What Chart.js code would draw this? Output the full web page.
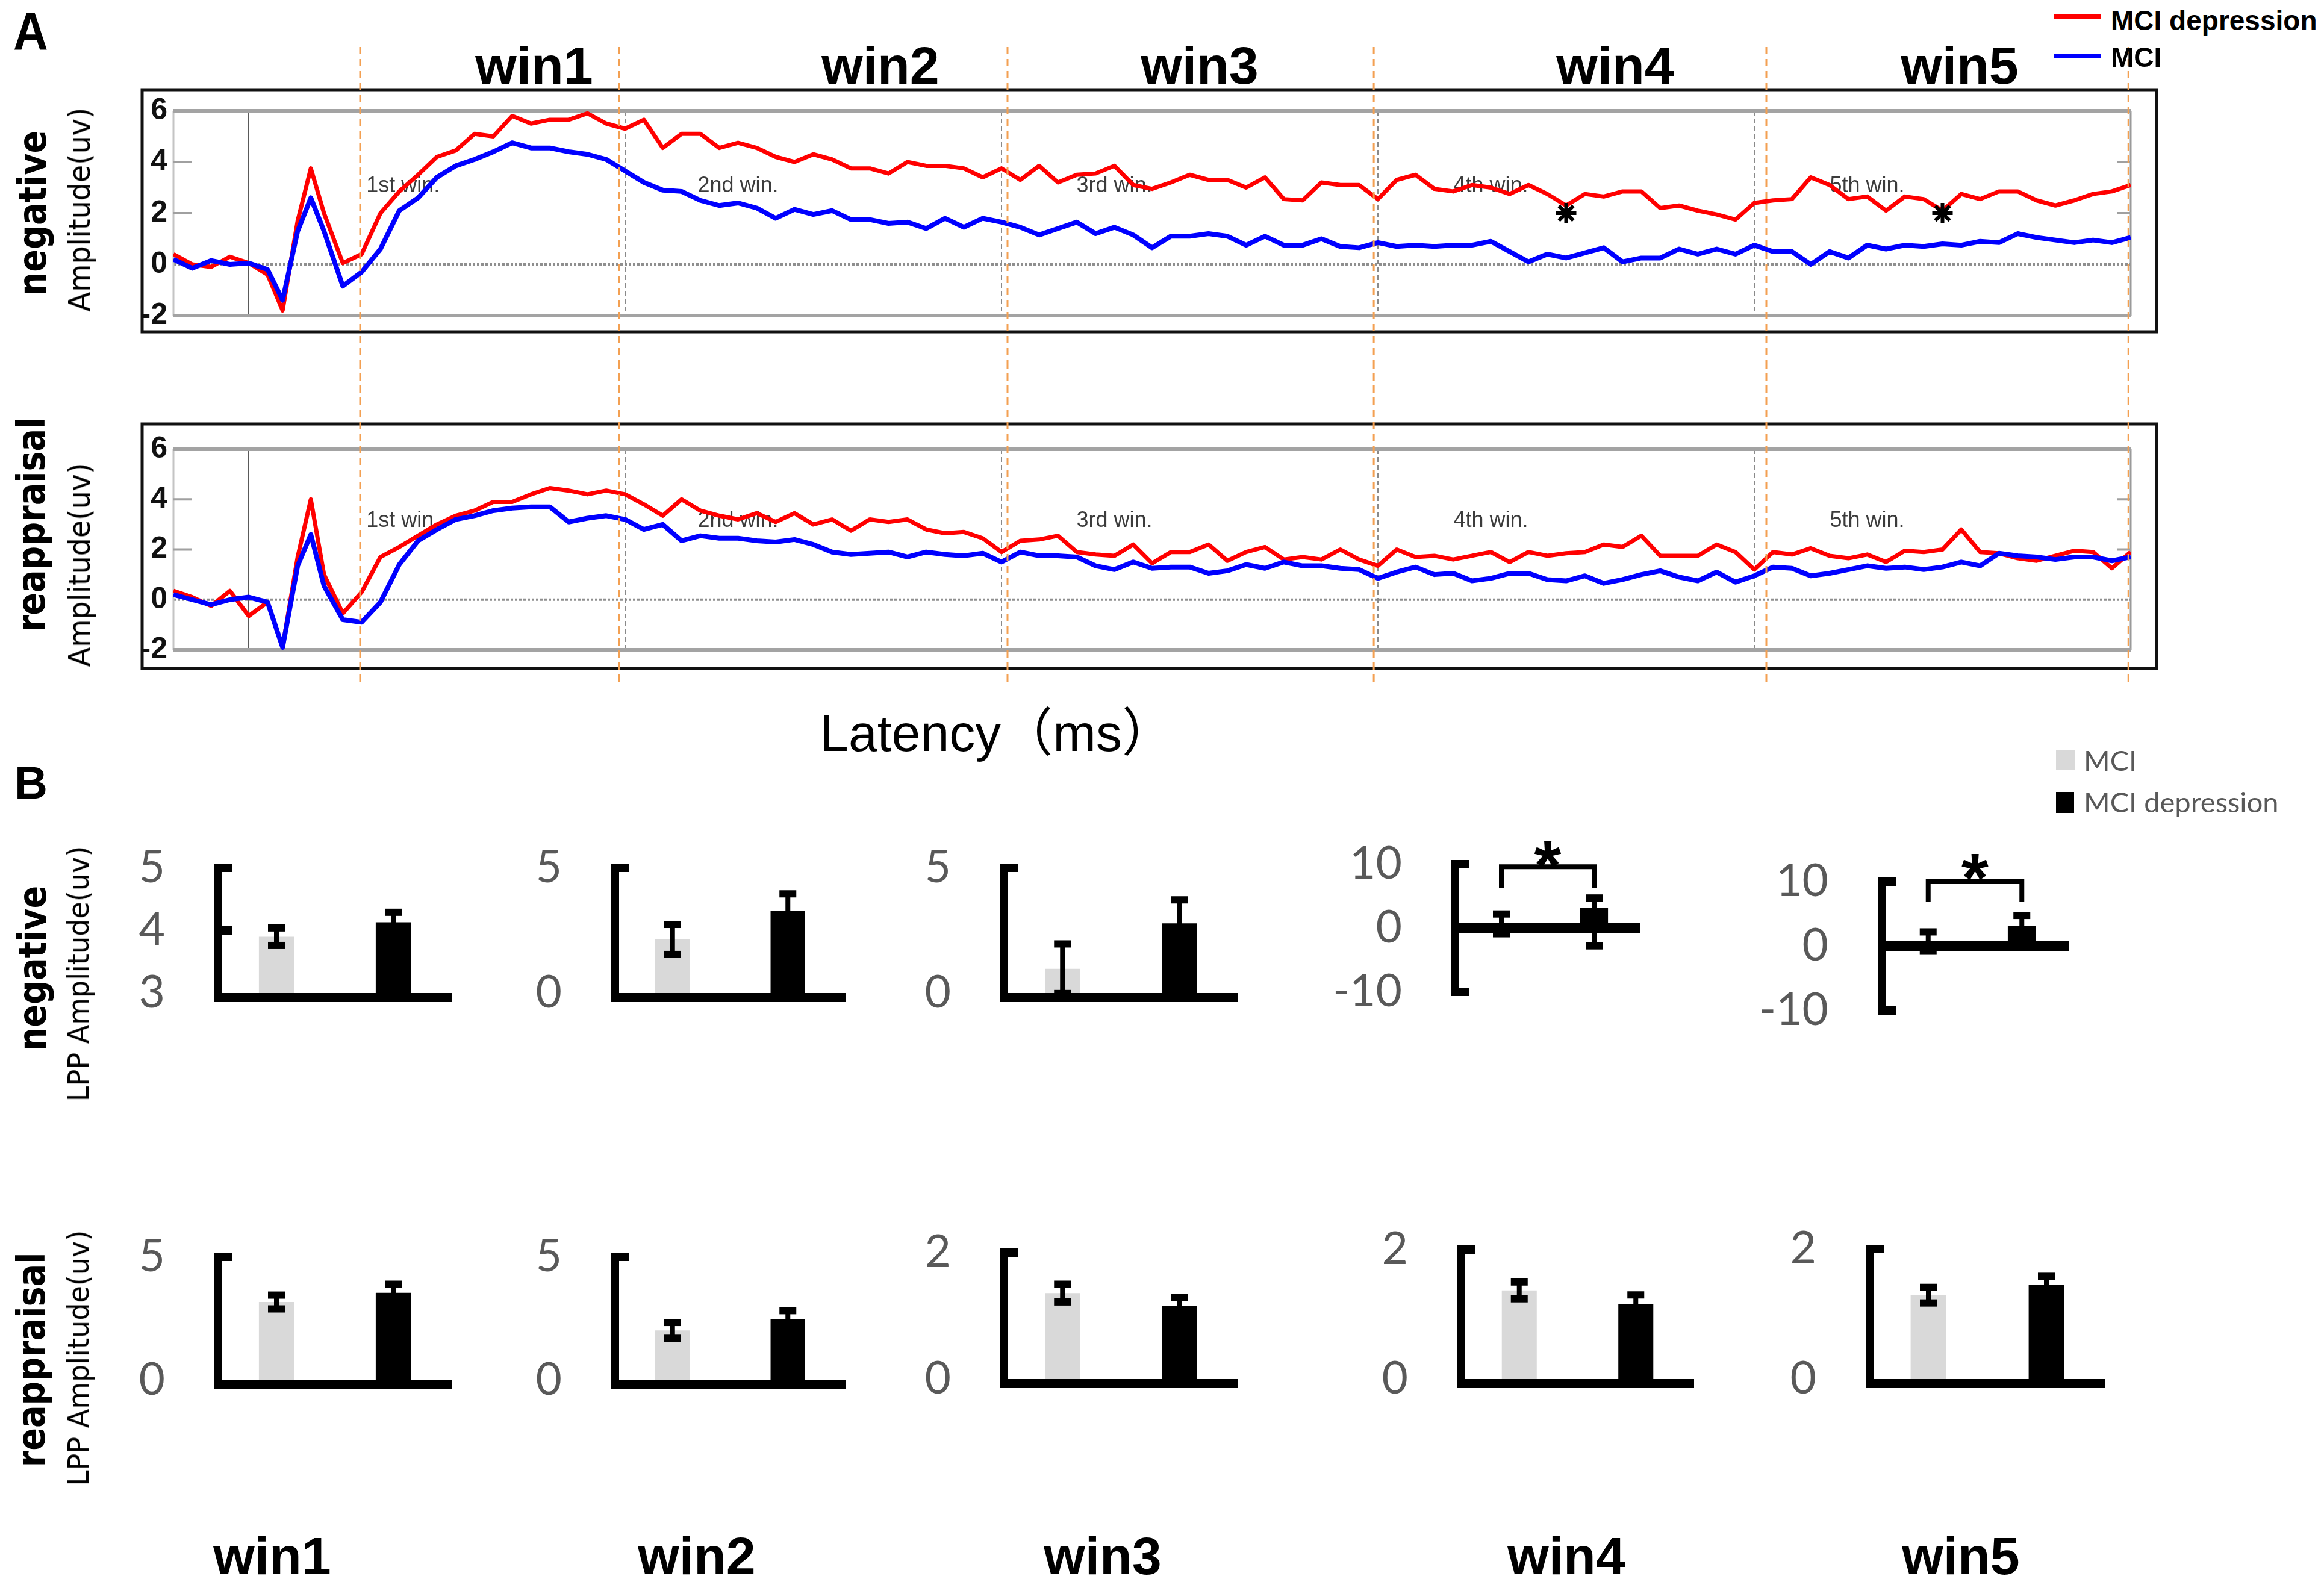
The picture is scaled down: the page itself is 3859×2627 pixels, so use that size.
<!DOCTYPE html>
<html><head><meta charset="utf-8">
<script src="https://cdn.jsdelivr.net/npm/chart.js@4.4.1/dist/chart.umd.min.js"></script>
<style>
html,body{margin:0;padding:0;background:#fff;}
#page{position:relative;width:3859px;height:2627px;overflow:hidden;background:#fff;}
#page canvas{position:absolute;}
.t{position:absolute;white-space:nowrap;line-height:1;}
.rot{position:absolute;white-space:nowrap;line-height:1;}
</style></head><body><div id="page"></div>
<script>
// ---------------- DATA ----------------
// ERP time axis (ms)
const times = [-200,-150,-100,-50,0,50,90,130,165,200,
  250,300,350,400,450,500,550,600,650,700,750,800,850,900,950,1000,1050,1100,1150,1200,1250,1300,1350,1400,
  1450,1500,1550,1600,1650,1700,1750,1800,1850,1900,
  1950,2000,2050,2100,2150,2200,2250,2300,2350,2400,
  2450,2500,2550,2600,2650,2700,2750,2800,2850,2900,
  2950,3000,3050,3100,3150,3200,3250,3300,3350,3400,
  3450,3500,3550,3600,3650,3700,3750,3800,3850,3900,
  3950,4000,4050,4100,4150,4200,4250,4300,4350,4400,
  4450,4500,4550,4600,4650,4700,4750,4800,4850,4900,
  4950,5000];
// negative condition (uV)
const negDepression = [0.4,0.0,-0.1,0.3,0.05,-0.4,-1.8,1.7,3.75,2.0,
  0.05,0.4,2.0,2.85,3.5,4.2,4.45,5.1,5.0,5.8,5.5,5.65,5.65,5.9,5.5,5.3,5.65,4.55,5.1,5.1,4.55,4.75,4.55,4.2,
  4.0,4.3,4.1,3.75,3.75,3.55,4.0,3.85,3.85,3.75,
  3.4,3.75,3.3,3.85,3.2,3.5,3.55,3.85,3.1,2.95,
  3.2,3.5,3.3,3.3,3.0,3.4,2.55,2.5,3.2,3.1,
  3.1,2.55,3.3,3.5,2.95,2.85,3.1,3.0,2.75,3.1,
  2.75,2.3,2.75,2.65,2.85,2.85,2.2,2.3,2.1,1.95,
  1.75,2.4,2.5,2.55,3.4,3.1,2.55,2.65,2.1,2.65,
  2.55,2.1,2.75,2.55,2.85,2.85,2.5,2.3,2.5,2.75,
  2.85,3.1];
const negMCIwave = [0.2,-0.15,0.15,0,0.05,-0.2,-1.4,1.3,2.6,1.3,
  -0.85,-0.3,0.6,2.1,2.6,3.4,3.85,4.1,4.4,4.75,4.55,4.55,4.4,4.3,4.1,3.65,3.2,2.9,2.85,2.5,2.3,2.4,2.2,1.8,
  2.15,1.95,2.1,1.75,1.75,1.6,1.65,1.4,1.8,1.45,
  1.8,1.65,1.45,1.15,1.4,1.65,1.2,1.45,1.15,0.65,
  1.1,1.1,1.2,1.1,0.75,1.1,0.75,0.75,1.0,0.7,
  0.65,0.85,0.7,0.75,0.7,0.75,0.75,0.9,0.5,0.1,
  0.4,0.25,0.45,0.65,0.1,0.25,0.25,0.6,0.4,0.6,
  0.4,0.75,0.5,0.5,0.0,0.5,0.25,0.75,0.6,0.75,
  0.7,0.8,0.75,0.9,0.85,1.2,1.05,0.95,0.85,0.95,
  0.85,1.05];
// reappraisal condition (uV)
const reapDepression = [0.35,0.1,-0.25,0.35,-0.65,-0.1,-1.9,1.7,4.0,1.0,
  -0.55,0.3,1.7,2.1,2.55,3.0,3.35,3.55,3.9,3.9,4.2,4.45,4.35,4.2,4.35,4.2,3.8,3.35,4.0,3.55,3.35,3.2,3.45,3.1,
  3.45,3.0,3.2,2.75,3.2,3.1,3.2,2.8,2.65,2.7,
  2.45,1.9,2.35,2.4,2.55,1.9,1.8,1.75,2.2,1.45,
  1.9,1.9,2.2,1.55,1.9,2.1,1.6,1.7,1.6,2.0,
  1.6,1.35,2.0,1.7,1.75,1.6,1.75,1.9,1.5,1.9,
  1.75,1.85,1.9,2.2,2.1,2.55,1.75,1.75,1.75,2.2,
  1.9,1.2,1.9,1.8,2.05,1.75,1.65,1.8,1.5,1.95,
  1.9,2.0,2.8,1.9,1.85,1.65,1.55,1.75,1.95,1.9,
  1.25,1.9];
const reapMCIwave = [0.2,0,-0.2,0,0.1,-0.1,-1.9,1.35,2.6,0.55,
  -0.8,-0.9,-0.1,1.4,2.35,2.8,3.2,3.35,3.55,3.65,3.7,3.7,3.1,3.25,3.35,3.2,2.8,3.0,2.35,2.55,2.45,2.45,2.35,2.3,
  2.4,2.2,1.9,1.8,1.85,1.9,1.7,1.9,1.8,1.75,
  1.85,1.5,1.9,1.75,1.75,1.7,1.35,1.2,1.5,1.25,
  1.3,1.3,1.05,1.15,1.4,1.25,1.5,1.35,1.35,1.25,
  1.2,0.85,1.1,1.3,1.0,1.05,0.75,0.85,1.05,1.05,
  0.8,0.75,0.95,0.65,0.8,1.0,1.15,0.9,0.75,1.1,
  0.7,0.95,1.3,1.25,0.95,1.05,1.2,1.35,1.25,1.3,
  1.2,1.3,1.5,1.35,1.85,1.75,1.7,1.6,1.7,1.7,
  1.55,1.7];
// significance markers in the negative waveform
const sigTimes = [3500, 4500];
const sigValues = [2.0, 2.0];
// window annotations
const gridTimes = [0, 1000, 2000, 3000, 4000, 5000];
const orangeTimes = [296, 984, 2016, 2989, 4032, 4994];
const winTexts = ['1st win.', '2nd win.', '3rd win.', '4th win.', '5th win.'];
const winTextTimes = [410, 1300, 2300, 3300, 4300];
const erpTicks = [-2, 0, 2, 4, 6];

// Panel B: LPP amplitude per window
const windows = ['win1', 'win2', 'win3', 'win4', 'win5'];
const groups = ['MCI', 'MCI depression'];
const negMCI = [3.90, 2.14, 0.97, 0.65, 0.70];
const negMCIErr = [0.14, 0.60, 0.99, 1.55, 1.50];
const negDep = [4.13, 3.27, 2.78, 3.20, 3.16];
const negDepErrUp = [0.16, 0.69, 0.94, 1.50, 1.60];
const negDepErrDown = [0.16, 0.69, 0.94, 6.00, 1.60];
const reapMCI = [3.17, 2.02, 1.36, 1.37, 1.29];
const reapMCIErr = [0.28, 0.32, 0.14, 0.13, 0.12];
const reapDep = [3.54, 2.47, 1.16, 1.16, 1.45];
const reapDepErr = [0.35, 0.35, 0.13, 0.14, 0.13];
const negAxisMin = [3, 0, 0, -10, -10];
const negAxisMax = [5, 5, 5, 10, 10];
const negAxisStep = [1, 5, 5, 10, 10];
const reapAxisMin = [0, 0, 0, 0, 0];
const reapAxisMax = [5, 5, 2, 2, 2];
const reapAxisStep = [5, 5, 2, 2, 2];
// significance brackets (value units): [bar level, leg end, star level]
const negSig = [null, null, null, [9.6, 6.3, 11.6], [10.0, 6.9, 12.3]];

// ---------------- HELPERS ----------------
const page = document.getElementById('page');
function addCanvas(l, t, w, h) {
  const c = document.createElement('canvas');
  c.width = w; c.height = h;
  c.style.left = l + 'px'; c.style.top = t + 'px';
  c.style.width = w + 'px'; c.style.height = h + 'px';
  page.appendChild(c);
  return c;
}
function addText(txt, css, cls) {
  const d = document.createElement('div');
  d.className = cls || 't';
  d.textContent = txt;
  Object.assign(d.style, css);
  page.appendChild(d);
  return d;
}
function addBox(l, t, w, h, color) {
  const d = document.createElement('div');
  Object.assign(d.style, { position: 'absolute', left: l + 'px', top: t + 'px', width: w + 'px', height: h + 'px', background: color });
  page.appendChild(d);
}
function seg(ctx, x0, y0, x1, y1) { ctx.beginPath(); ctx.moveTo(x0, y0); ctx.lineTo(x1, y1); ctx.stroke(); }

// ---------------- ERP CHARTS ----------------
function erpChart(cfg) {
  const c = addCanvas(cfg.left, cfg.top, cfg.w, cfg.h);
  const deco = {
    id: 'erpDeco',
    beforeDatasetsDraw(chart) {
      const { ctx, chartArea: a, scales: { x, y } } = chart;
      ctx.save();
      const y0 = y.getPixelForValue(0);
      ctx.strokeStyle = '#8f8f8f'; ctx.lineWidth = 4; ctx.setLineDash([4, 3]);
      seg(ctx, a.left, y0, a.right, y0);
      ctx.setLineDash([]);
      ctx.strokeStyle = '#c4c4c4'; ctx.lineWidth = 3;
      seg(ctx, a.left, a.top, a.left, a.bottom);
      gridTimes.forEach((t, i) => {
        const px = x.getPixelForValue(t);
        if (i === 0) { ctx.strokeStyle = '#5a5a5a'; ctx.lineWidth = 2; ctx.setLineDash([]); }
        else if (i === gridTimes.length - 1) { ctx.strokeStyle = '#9a9a9a'; ctx.lineWidth = 3; ctx.setLineDash([]); }
        else { ctx.strokeStyle = '#8a8a8a'; ctx.lineWidth = 2; ctx.setLineDash([8, 5]); }
        seg(ctx, px, a.top, px, a.bottom);
      });
      ctx.setLineDash([]);
      ctx.strokeStyle = '#a3a3a3'; ctx.lineWidth = 6;
      seg(ctx, a.left, y.getPixelForValue(6), a.right, y.getPixelForValue(6));
      seg(ctx, a.left, y.getPixelForValue(-2), a.right, y.getPixelForValue(-2));
      ctx.lineWidth = 4; ctx.strokeStyle = '#a0a0a0';
      [2, 4].forEach(v => {
        const py = y.getPixelForValue(v);
        seg(ctx, a.left, py, a.left + 30, py);
        seg(ctx, a.right - 22, py, a.right, py);
      });
      ctx.fillStyle = '#3c3c3c'; ctx.font = '36px "Liberation Sans"';
      ctx.textAlign = 'center'; ctx.textBaseline = 'middle';
      winTextTimes.forEach((t, i) => ctx.fillText(winTexts[i], x.getPixelForValue(t), y.getPixelForValue(cfg.labelVal)));
      ctx.restore();
    },
    afterDraw(chart) {
      const { ctx, chartArea: a, scales: { x } } = chart;
      ctx.save();
      ctx.strokeStyle = '#111'; ctx.lineWidth = 5;
      ctx.strokeRect(a.left + cfg.box[0], a.top + cfg.box[1], a.right - a.left - cfg.box[0] + cfg.box[2], a.bottom - a.top - cfg.box[1] + cfg.box[3]);
      ctx.strokeStyle = '#f3a052'; ctx.lineWidth = 3; ctx.setLineDash([12, 8]);
      orangeTimes.forEach(t => {
        const px = x.getPixelForValue(t);
        seg(ctx, px, cfg.orange[0], px, cfg.orange[1]);
      });
      ctx.restore();
    }
  };
  const ds = [
    { label: 'MCI', data: times.map((t, i) => ({ x: t, y: cfg.blue[i] })), borderColor: '#0000ff', borderWidth: 8, pointRadius: 0, tension: 0, borderJoinStyle: 'round' },
    { label: 'MCI depression', data: times.map((t, i) => ({ x: t, y: cfg.red[i] })), borderColor: '#ff0000', borderWidth: 7, pointRadius: 0, tension: 0, borderJoinStyle: 'round' }
  ];
  if (cfg.sig) {
    ds.unshift({ label: 'sig', data: sigTimes.map((t, i) => ({ x: t, y: sigValues[i] })), showLine: false, pointStyle: 'star', pointRadius: 17, pointBorderWidth: 6, borderColor: '#000', pointBorderColor: '#000' });
  }
  new Chart(c, {
    type: 'line',
    data: { datasets: ds },
    options: {
      responsive: false, animation: false, devicePixelRatio: 1,
      layout: { padding: { left: 0, top: cfg.pad[0], right: cfg.pad[1], bottom: cfg.pad[2] } },
      plugins: { legend: { display: false }, tooltip: { enabled: false } },
      scales: {
        x: { type: 'linear', min: -200, max: 5000, display: false },
        y: {
          min: -2, max: 6,
          afterBuildTicks(s) { s.ticks = erpTicks.map(v => ({ value: v })); },
          afterFit(s) { s.width = cfg.yw; },
          grid: { display: false, drawTicks: false }, border: { display: false },
          ticks: { padding: 10, color: '#111', font: { family: 'Liberation Sans', size: 50, weight: 'bold' } }
        }
      }
    },
    plugins: [deco]
  });
}

erpChart({ left: 100, top: 70, w: 3540, h: 530, pad: [114, 102, 76], yw: 188, red: negDepression, blue: negMCIwave, sig: true, labelVal: 3.05, box: [-52, -35, 43, 27], orange: [8, 530] });
erpChart({ left: 100, top: 600, w: 3540, h: 550, pad: [146, 102, 71], yw: 188, red: reapDepression, blue: reapMCIwave, sig: false, labelVal: 3.15, box: [-52, -42, 43, 31], orange: [0, 540] });

// ---------------- BAR CHARTS ----------------
function barChart(sp) {
  const padL = 230, padT = 130, padR = 20, padB = 40;
  const c = addCanvas(sp.L - padL, sp.T - padT, sp.R - sp.L + padL + padR, sp.B - sp.T + padT + padB);
  const deco = {
    id: 'barDeco',
    afterDatasetsDraw(chart) {
      const { ctx, chartArea: a, scales: { y } } = chart;
      const meta = chart.getDatasetMeta(0);
      const L = a.left, R = a.right;
      const yTop = y.getPixelForValue(sp.max), yBot = y.getPixelForValue(sp.min);
      ctx.save();
      ctx.fillStyle = '#000'; ctx.strokeStyle = '#000';
      sp.err.forEach((e, i) => {
        const bx = meta.data[i].x;
        const yh = y.getPixelForValue(e[0] + e[1]);
        const yl = y.getPixelForValue(e[0] - e[2]);
        ctx.fillRect(bx - 4, yh, 8, yl - yh);
        ctx.fillRect(bx - 14, yh - 6, 28, 12);
        ctx.fillRect(bx - 14, yl - 6, 28, 12);
      });
      if (sp.min < 0) {
        const y0 = y.getPixelForValue(0);
        ctx.fillRect(L, y0 - 9, R - L, 18);
        ctx.fillRect(L - 6, yTop - 7, 13, yBot - yTop + 14);
      } else {
        ctx.fillRect(L, yBot, R - L, 15);
        ctx.fillRect(L - 6, yTop - 7, 13, yBot - yTop + 22);
      }
      sp.tabs.forEach(v => { const py = y.getPixelForValue(v); ctx.fillRect(L, py - 7, 24, 14); });
      if (sp.sig) {
        const x0 = meta.data[0].x, x1 = meta.data[1].x;
        const yb = y.getPixelForValue(sp.sig[0]), yl = y.getPixelForValue(sp.sig[1]);
        ctx.lineWidth = 8; ctx.lineJoin = 'miter';
        ctx.beginPath(); ctx.moveTo(x0, yl); ctx.lineTo(x0, yb); ctx.lineTo(x1, yb); ctx.lineTo(x1, yl); ctx.stroke();
        ctx.font = 'bold 115px "Liberation Sans"'; ctx.textAlign = 'center'; ctx.textBaseline = 'alphabetic';
        const m = ctx.measureText('*');
        const cy = y.getPixelForValue(sp.sig[2]);
        const base = cy + (m.actualBoundingBoxAscent - m.actualBoundingBoxDescent) / 2;
        ctx.fillText('*', (x0 + x1) / 2, base);
      }
      ctx.restore();
    }
  };
  new Chart(c, {
    type: 'bar',
    data: { labels: groups, datasets: [{ data: [sp.err[0][0], sp.err[1][0]], backgroundColor: ['#d9d9d9', '#000000'], borderWidth: 0, barPercentage: 0.3, categoryPercentage: 1 }] },
    options: {
      responsive: false, animation: false, devicePixelRatio: 1,
      layout: { padding: { left: 0, top: padT, right: padR, bottom: padB } },
      plugins: { legend: { display: false }, tooltip: { enabled: false } },
      scales: {
        x: { display: false, offset: true },
        y: {
          min: sp.min, max: sp.max,
          afterFit(s) { s.width = padL; },
          grid: { display: false, drawTicks: false }, border: { display: false },
          ticks: { stepSize: sp.step, padding: 88, color: '#595959', font: { family: 'Lato', size: 75 } }
        }
      }
    },
    plugins: [deco]
  });
}

// layout boxes (x of y-axis, end of x-axis, top pixel, bottom pixel)
const negBoxes = [[362, 750, 1438, 1742], [1021, 1404, 1438, 1742], [1667, 2056, 1438, 1742], [2416, 2724, 1432, 1740], [3124, 3435, 1461, 1771]];
const reapBoxes = [[362, 750, 2084, 2385], [1021, 1404, 2084, 2385], [1667, 2056, 2077, 2383], [2426, 2813, 2072, 2383], [3104, 3496, 2071, 2383]];

windows.forEach((w, i) => {
  const nb = negBoxes[i];
  const nTabs = negAxisMin[i] < 0 ? [negAxisMax[i], negAxisMin[i]] : (negAxisStep[i] === 1 ? [negAxisMax[i], negAxisMax[i] - 1] : [negAxisMax[i]]);
  barChart({ L: nb[0], R: nb[1], T: nb[2], B: nb[3], min: negAxisMin[i], max: negAxisMax[i], step: negAxisStep[i], tabs: nTabs,
    err: [[negMCI[i], negMCIErr[i], negMCIErr[i]], [negDep[i], negDepErrUp[i], negDepErrDown[i]]], sig: negSig[i] });
  const rb = reapBoxes[i];
  barChart({ L: rb[0], R: rb[1], T: rb[2], B: rb[3], min: reapAxisMin[i], max: reapAxisMax[i], step: reapAxisStep[i], tabs: [reapAxisMax[i]],
    err: [[reapMCI[i], reapMCIErr[i], reapMCIErr[i]], [reapDep[i], reapDepErr[i], reapDepErr[i]]], sig: null });
});

// ---------------- TEXT ----------------
const LS = '"Liberation Sans", Arial, sans-serif';
const DJ = '"DejaVu Sans", Verdana, sans-serif';
addText('A', { left: '22px', top: '8px', fontFamily: LS, fontWeight: 'bold', fontSize: '80px', color: '#000', transform: 'scaleY(1.12)', transformOrigin: 'top left' });
addText('B', { left: '24px', top: '1262px', fontFamily: LS, fontWeight: 'bold', fontSize: '76px', color: '#000' });
const topWinX = [887, 1462, 1992, 2682, 3254];
windows.forEach((w, i) => addText(w, { left: topWinX[i] + 'px', top: '65px', fontFamily: LS, fontWeight: 'bold', fontSize: '88px', color: '#000', transform: 'translateX(-50%)' }));
const botWinX = [452, 1157, 1831, 2601, 3256];
windows.forEach((w, i) => addText(w, { left: botWinX[i] + 'px', top: '2540px', fontFamily: LS, fontWeight: 'bold', fontSize: '88px', color: '#000', transform: 'translateX(-50%)' }));

// legend A
addBox(3410, 24, 78, 7, '#ff0000');
addBox(3410, 89, 78, 7, '#0000ff');
addText('MCI depression', { left: '3505px', top: '11px', fontFamily: LS, fontWeight: 'bold', fontSize: '46px', color: '#000' });
addText('MCI', { left: '3505px', top: '72px', fontFamily: LS, fontWeight: 'bold', fontSize: '46px', color: '#000' });

// legend B
addBox(3414, 1246, 31, 33, '#d9d9d9');
addBox(3414, 1315, 30, 35, '#000');
addText('MCI', { left: '3460px', top: '1239px', fontFamily: 'Lato', fontSize: '47px', color: '#595959' });
addText('MCI depression', { left: '3460px', top: '1308px', fontFamily: 'Lato', fontSize: '47px', color: '#595959' });

// axis title
addText('Latency（ms）', { left: '1655px', top: '1174px', fontFamily: '"Liberation Sans", "Noto Sans CJK SC", sans-serif', fontSize: '86px', color: '#000', transform: 'translateX(-50%)' });

// rotated row labels
function rot(txt, cx, cy, size, bold, sx) {
  addText(txt, { left: cx + 'px', top: cy + 'px', fontFamily: DJ, fontWeight: bold ? 'bold' : 'normal', fontSize: size + 'px', color: '#000',
    transform: 'translate(-50%,-50%) rotate(-90deg) scaleX(' + sx + ')' }, 'rot');
}
rot('negative', 54, 354, 64, true, 0.87);
rot('Amplitude(uv)', 132, 348, 50, false, 0.95);
rot('reappraisal', 52, 871, 64, true, 0.87);
rot('Amplitude(uv)', 132, 938, 50, false, 0.95);
rot('negative', 54, 1608, 64, true, 0.87);
rot('LPP Amplitude(uv)', 130, 1617, 48, false, 0.96);
rot('reappraisal', 52, 2258, 64, true, 0.87);
rot('LPP Amplitude(uv)', 130, 2255, 48, false, 0.96);
</script></body></html>
